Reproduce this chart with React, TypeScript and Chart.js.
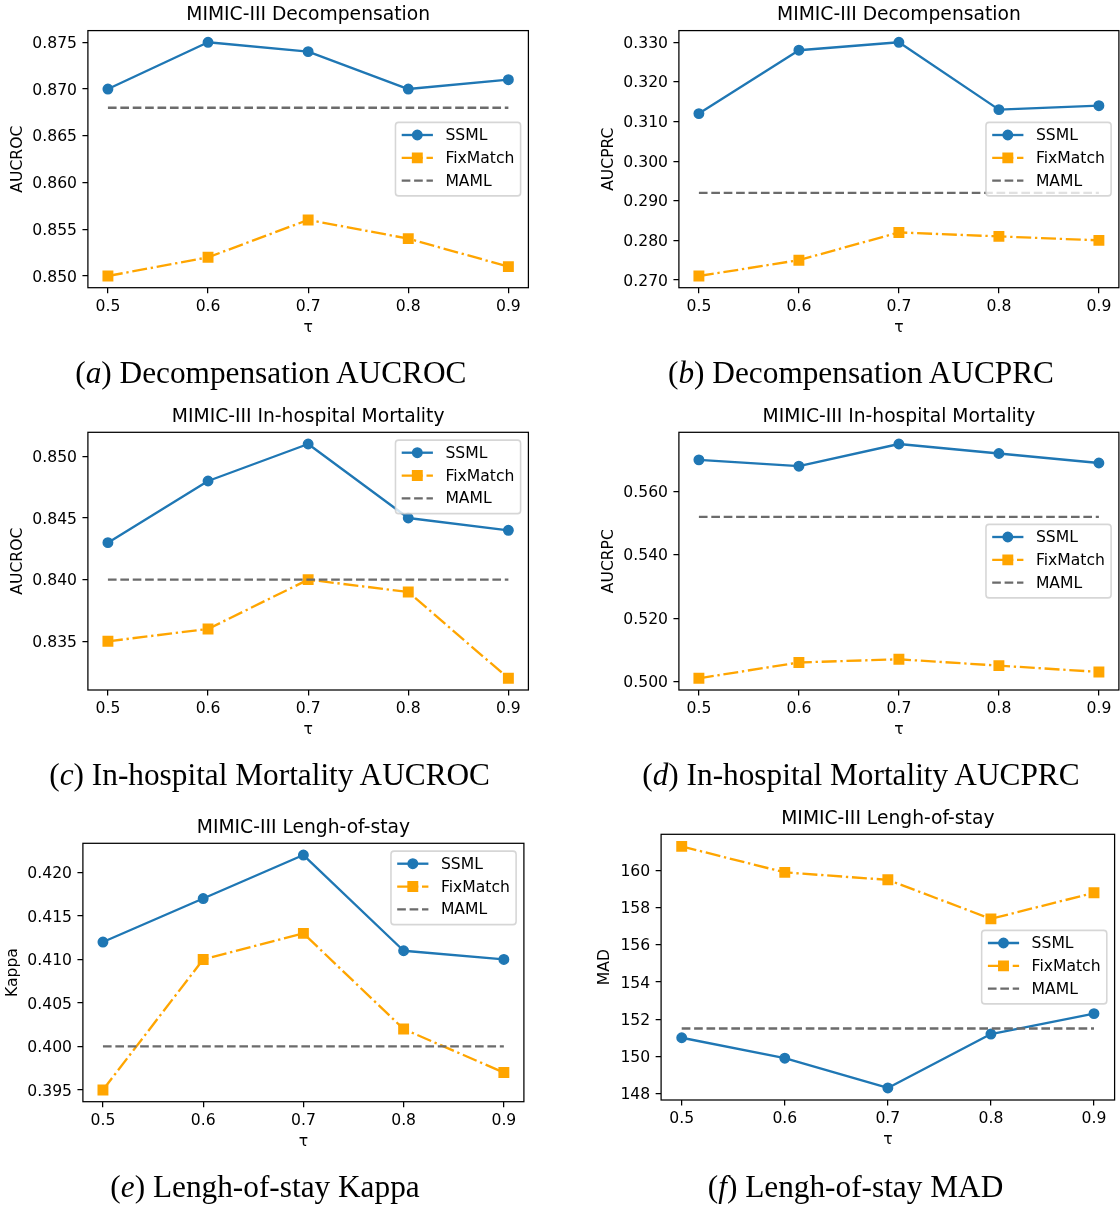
import React, { useEffect, useRef } from 'react';
import { Chart, registerables } from 'chart.js';

Chart.register(...registerables);
Chart.defaults.font.family = '"DejaVu Sans", sans-serif';
Chart.defaults.color = '#000';

// ---------------- data ----------------
const tau = [0.5, 0.6, 0.7, 0.8, 0.9];
const tauTicks = [0.5, 0.6, 0.7, 0.8, 0.9];
const seriesNames = ['SSML', 'FixMatch', 'MAML'];

// (a) Decompensation AUCROC
const decompRocSSML = [0.870, 0.875, 0.874, 0.870, 0.871];
const decompRocFixMatch = [0.850, 0.852, 0.856, 0.854, 0.851];
const decompRocMAML = 0.868;
const decompRocTicks = [0.850, 0.855, 0.860, 0.865, 0.870, 0.875];

// (b) Decompensation AUCPRC
const decompPrcSSML = [0.312, 0.328, 0.330, 0.313, 0.314];
const decompPrcFixMatch = [0.271, 0.275, 0.282, 0.281, 0.280];
const decompPrcMAML = 0.292;
const decompPrcTicks = [0.270, 0.280, 0.290, 0.300, 0.310, 0.320, 0.330];

// (c) In-hospital Mortality AUCROC
const mortRocSSML = [0.843, 0.848, 0.851, 0.845, 0.844];
const mortRocFixMatch = [0.835, 0.836, 0.840, 0.839, 0.832];
const mortRocMAML = 0.840;
const mortRocTicks = [0.835, 0.840, 0.845, 0.850];

// (d) In-hospital Mortality AUCPRC
const mortPrcSSML = [0.570, 0.568, 0.575, 0.572, 0.569];
const mortPrcFixMatch = [0.501, 0.506, 0.507, 0.505, 0.503];
const mortPrcMAML = 0.552;
const mortPrcTicks = [0.500, 0.520, 0.540, 0.560];

// (e) Length-of-stay Kappa
const losKappaSSML = [0.412, 0.417, 0.422, 0.411, 0.410];
const losKappaFixMatch = [0.395, 0.410, 0.413, 0.402, 0.397];
const losKappaMAML = 0.400;
const losKappaTicks = [0.395, 0.400, 0.405, 0.410, 0.415, 0.420];

// (f) Length-of-stay MAD
const losMadSSML = [151.0, 149.9, 148.3, 151.2, 152.3];
const losMadFixMatch = [161.3, 159.9, 159.5, 157.4, 158.8];
const losMadMAML = 151.5;
const losMadTicks = [148, 150, 152, 154, 156, 158, 160];

// ---------------- styles ----------------
const PT = 1.56; // px per point
const BLUE = '#1f77b4';
const ORANGE = '#ffa500';
const GRAY = '#6b6b6b';
const LW = 1.5 * PT;
const TICK_FONT = 10 * PT;
const TITLE_FONT = 12 * PT;
const DASH = [3.7 * LW, 1.6 * LW];
const DASHDOT = [6.4 * LW, 1.6 * LW, 1 * LW, 1.6 * LW];
const MARKER = 6 * PT;

type PanelCfg = {
  title: string;
  yLabel: string;
  ssml: number[];
  fix: number[];
  maml: number;
  yTicks: number[];
  decimals: number;
  letter: string;
  caption: string;
  canvas: { left: number; top: number; width: number; height: number };
  plot: { L: number; R: number; T: number; B: number };
  yTitleOffset: number;
  legendLoc: 'center right' | 'upper right';
  captionX: number;
  captionBase: number;
};

const panels: PanelCfg[] = [
  {
    title: 'MIMIC-III Decompensation', yLabel: 'AUCROC',
    ssml: decompRocSSML, fix: decompRocFixMatch, maml: decompRocMAML, yTicks: decompRocTicks, decimals: 3,
    letter: 'a', caption: 'Decompensation AUCROC',
    canvas: { left: 0, top: 0, width: 560, height: 400 },
    plot: { L: 87.9, R: 528.4, T: 30.6, B: 287.7 }, yTitleOffset: 70.9, legendLoc: 'center right',
    captionX: 270.8, captionBase: 383.5,
  },
  {
    title: 'MIMIC-III Decompensation', yLabel: 'AUCPRC',
    ssml: decompPrcSSML, fix: decompPrcFixMatch, maml: decompPrcMAML, yTicks: decompPrcTicks, decimals: 3,
    letter: 'b', caption: 'Decompensation AUCPRC',
    canvas: { left: 560, top: 0, width: 620, height: 400 },
    plot: { L: 678.9, R: 1118.9, T: 30.6, B: 287.7 }, yTitleOffset: 70.9, legendLoc: 'center right',
    captionX: 861, captionBase: 383.5,
  },
  {
    title: 'MIMIC-III In-hospital Mortality', yLabel: 'AUCROC',
    ssml: mortRocSSML, fix: mortRocFixMatch, maml: mortRocMAML, yTicks: mortRocTicks, decimals: 3,
    letter: 'c', caption: 'In-hospital Mortality AUCROC',
    canvas: { left: 0, top: 400, width: 560, height: 400 },
    plot: { L: 87.9, R: 528.4, T: 432.3, B: 690 }, yTitleOffset: 70.9, legendLoc: 'upper right',
    captionX: 269.6, captionBase: 785.5,
  },
  {
    title: 'MIMIC-III In-hospital Mortality', yLabel: 'AUCRPC',
    ssml: mortPrcSSML, fix: mortPrcFixMatch, maml: mortPrcMAML, yTicks: mortPrcTicks, decimals: 3,
    letter: 'd', caption: 'In-hospital Mortality AUCPRC',
    canvas: { left: 560, top: 400, width: 620, height: 400 },
    plot: { L: 678.9, R: 1118.9, T: 432.3, B: 690 }, yTitleOffset: 70.9, legendLoc: 'center right',
    captionX: 860.9, captionBase: 785.5,
  },
  {
    title: 'MIMIC-III Lengh-of-stay', yLabel: 'Kappa',
    ssml: losKappaSSML, fix: losKappaFixMatch, maml: losKappaMAML, yTicks: losKappaTicks, decimals: 3,
    letter: 'e', caption: 'Lengh-of-stay Kappa',
    canvas: { left: 0, top: 800, width: 560, height: 411 },
    plot: { L: 82.9, R: 523.9, T: 843.3, B: 1101.7 }, yTitleOffset: 70.9, legendLoc: 'upper right',
    captionX: 265, captionBase: 1197.5,
  },
  {
    title: 'MIMIC-III Lengh-of-stay', yLabel: 'MAD',
    ssml: losMadSSML, fix: losMadFixMatch, maml: losMadMAML, yTicks: losMadTicks, decimals: 0,
    letter: 'f', caption: 'Lengh-of-stay MAD',
    canvas: { left: 560, top: 800, width: 620, height: 411 },
    plot: { L: 661.1, R: 1114.6, T: 834.3, B: 1100 }, yTitleOffset: 57, legendLoc: 'center right',
    captionX: 855.5, captionBase: 1197.5,
  },
];

// ---------------- plugins ----------------
const framePlugin = {
  id: 'mplFrame',
  afterDatasetsDraw(chart: any) {
    const { ctx, chartArea } = chart;
    ctx.save();
    ctx.strokeStyle = '#000';
    ctx.lineWidth = 0.8 * PT;
    ctx.strokeRect(chartArea.left, chartArea.top, chartArea.right - chartArea.left, chartArea.bottom - chartArea.top);
    ctx.restore();
  },
};

function drawMarker(ctx: CanvasRenderingContext2D, kind: string, x: number, y: number, color: string) {
  ctx.save();
  ctx.setLineDash([]);
  ctx.fillStyle = color;
  ctx.strokeStyle = color;
  ctx.lineWidth = PT;
  ctx.beginPath();
  if (kind === 'circle') {
    ctx.arc(x, y, MARKER / 2, 0, Math.PI * 2);
  } else if (kind === 'rect') {
    ctx.rect(x - MARKER / 2, y - MARKER / 2, MARKER, MARKER);
  }
  ctx.fill();
  ctx.stroke();
  ctx.restore();
}

const legendPlugin = {
  id: 'mplLegend',
  afterDraw(chart: any, _args: any, opts: any) {
    const { ctx, chartArea } = chart;
    const items = chart.data.datasets.map((d: any) => ({
      label: d.label,
      color: d.borderColor,
      dash: d.borderDash || [],
      marker: d.pointRadius > 0 ? d.pointStyle : null,
    }));
    const fs = TICK_FONT;
    ctx.save();
    ctx.font = `${fs}px "DejaVu Sans"`;
    const textW = Math.max(...items.map((it: any) => ctx.measureText(it.label).width));
    const pad = 0.4 * fs;
    const handleLen = 2 * fs;
    const handlePad = 0.8 * fs;
    const rowStep = 22.85;
    const w = pad * 2 + handleLen + handlePad + textW;
    const h = 73.5;
    const right = chartArea.right - 0.5 * fs;
    const left = right - w;
    const top = opts.loc === 'upper right'
      ? chartArea.top + 0.5 * fs
      : (chartArea.top + chartArea.bottom) / 2 - h / 2;
    // frame
    const r = 0.2 * fs;
    ctx.beginPath();
    ctx.moveTo(left + r, top);
    ctx.lineTo(left + w - r, top);
    ctx.arcTo(left + w, top, left + w, top + r, r);
    ctx.lineTo(left + w, top + h - r);
    ctx.arcTo(left + w, top + h, left + w - r, top + h, r);
    ctx.lineTo(left + r, top + h);
    ctx.arcTo(left, top + h, left, top + h - r, r);
    ctx.lineTo(left, top + r);
    ctx.arcTo(left, top, left + r, top, r);
    ctx.closePath();
    ctx.fillStyle = 'rgba(255,255,255,0.8)';
    ctx.fill();
    ctx.strokeStyle = 'rgba(204,204,204,0.8)';
    ctx.lineWidth = PT;
    ctx.stroke();
    // entries
    items.forEach((it: any, i: number) => {
      const y = top + 12.6 + i * rowStep;
      const x0 = left + pad;
      ctx.save();
      ctx.strokeStyle = it.color;
      ctx.lineWidth = LW;
      ctx.lineCap = 'butt';
      ctx.setLineDash(it.dash);
      ctx.beginPath();
      ctx.moveTo(x0, y);
      ctx.lineTo(x0 + handleLen, y);
      ctx.stroke();
      ctx.restore();
      if (it.marker) drawMarker(ctx, it.marker, x0 + handleLen / 2, y, it.color);
      ctx.fillStyle = '#000';
      ctx.textAlign = 'left';
      ctx.textBaseline = 'middle';
      ctx.fillText(it.label, x0 + handleLen + handlePad, y + 1);
    });
    ctx.restore();
  },
};

// ---------------- components ----------------
function Panel({ p }: { p: PanelCfg }) {
  const ref = useRef<HTMLCanvasElement>(null);
  useEffect(() => {
    const canvas = ref.current;
    if (!canvas) return;
    const all = [...p.ssml, ...p.fix, p.maml];
    const lo = Math.min(...all);
    const hi = Math.max(...all);
    const ym = (hi - lo) * 0.05;
    const xlo = Math.min(...tau);
    const xhi = Math.max(...tau);
    const xm = (xhi - xlo) * 0.05;
    const W = p.yTitleOffset + 8.31;
    const H = 49.7;
    const titleBox = TITLE_FONT * 1.2 + 4;
    const gridCfg = {
      display: true,
      drawOnChartArea: false,
      drawTicks: true,
      tickLength: 3.5 * PT,
      tickWidth: 0.8 * PT,
      tickColor: '#000',
      color: '#000',
      lineWidth: 0.8 * PT,
    };
    const chart = new Chart(canvas, {
      type: 'line',
      data: {
        datasets: [
          {
            label: seriesNames[0],
            data: tau.map((t, i) => ({ x: t, y: p.ssml[i] })),
            borderColor: BLUE,
            backgroundColor: BLUE,
            borderWidth: LW,
            borderJoinStyle: 'round',
            pointStyle: 'circle',
            pointRadius: MARKER / 2,
            pointHoverRadius: MARKER / 2,
            pointBorderWidth: PT,
            pointBackgroundColor: BLUE,
            pointBorderColor: BLUE,
            tension: 0,
            order: 2,
          },
          {
            label: seriesNames[1],
            data: tau.map((t, i) => ({ x: t, y: p.fix[i] })),
            borderColor: ORANGE,
            backgroundColor: ORANGE,
            borderWidth: LW,
            borderDash: DASHDOT,
            borderJoinStyle: 'round',
            pointStyle: 'rect',
            pointRadius: MARKER / Math.SQRT2,
            pointHoverRadius: MARKER / Math.SQRT2,
            pointBorderWidth: PT,
            pointBackgroundColor: ORANGE,
            pointBorderColor: ORANGE,
            tension: 0,
            order: 1,
          },
          {
            label: seriesNames[2],
            data: tau.map((t) => ({ x: t, y: p.maml })),
            borderColor: GRAY,
            backgroundColor: GRAY,
            borderWidth: LW,
            borderDash: DASH,
            pointRadius: 0,
            pointHoverRadius: 0,
            tension: 0,
            order: 0,
          },
        ],
      } as any,
      options: {
        responsive: false,
        maintainAspectRatio: false,
        animation: false,
        events: [],
        layout: {
          padding: {
            left: p.plot.L - p.canvas.left - W,
            right: p.canvas.left + p.canvas.width - p.plot.R,
            top: p.plot.T - p.canvas.top - titleBox,
            bottom: p.canvas.top + p.canvas.height - p.plot.B - H,
          },
        },
        plugins: {
          legend: { display: false },
          tooltip: { enabled: false },
          title: {
            display: true,
            text: p.title,
            fullSize: false,
            color: '#000',
            font: { size: TITLE_FONT, weight: 'normal', lineHeight: 1.2 },
            padding: { top: 0, bottom: 4 },
          },
          mplLegend: { loc: p.legendLoc },
        } as any,
        scales: {
          x: {
            type: 'linear',
            position: 'bottom',
            min: xlo - xm,
            max: xhi + xm,
            afterBuildTicks: (s: any) => {
              s.ticks = tauTicks.map((v) => ({ value: v }));
            },
            afterFit: (s: any) => {
              s.height = H;
            },
            ticks: {
              autoSkip: false,
              maxRotation: 0,
              padding: 4.5,
              color: '#000',
              font: { size: TICK_FONT, lineHeight: 1.2 },
              callback: (v: any) => Number(v).toFixed(1),
            },
            grid: gridCfg,
            border: { display: false },
            title: {
              display: true,
              text: 'τ',
              color: '#000',
              font: { size: TICK_FONT, lineHeight: 1.2 },
              padding: 0,
            },
          },
          y: {
            type: 'linear',
            position: 'left',
            min: lo - ym,
            max: hi + ym,
            afterBuildTicks: (s: any) => {
              s.ticks = p.yTicks.map((v) => ({ value: v }));
            },
            afterFit: (s: any) => {
              s.width = W;
            },
            ticks: {
              autoSkip: false,
              padding: 3.5 * PT,
              labelOffset: 1.5,
              color: '#000',
              font: { size: TICK_FONT, lineHeight: 1.2 },
              callback: (v: any) => Number(v).toFixed(p.decimals),
            },
            grid: gridCfg,
            border: { display: false },
            title: {
              display: true,
              text: p.yLabel,
              color: '#000',
              font: { size: TICK_FONT, lineHeight: 1.2 },
              padding: 0,
            },
          },
        } as any,
      },
      plugins: [framePlugin, legendPlugin],
    });
    return () => chart.destroy();
  }, [p]);
  return (
    <canvas
      ref={ref}
      width={p.canvas.width}
      height={p.canvas.height}
      style={{
        position: 'absolute',
        left: p.canvas.left,
        top: p.canvas.top,
        width: p.canvas.width,
        height: p.canvas.height,
      }}
    />
  );
}

function Caption({ p }: { p: PanelCfg }) {
  return (
    <div
      style={{
        position: 'absolute',
        left: p.captionX - 300,
        width: 600,
        top: p.captionBase - 26.2,
        textAlign: 'center',
        fontFamily: '"Liberation Serif", serif',
        fontSize: 31.3,
        lineHeight: '31.3px',
        whiteSpace: 'nowrap',
        color: '#000',
      }}
    >
      (<i>{p.letter}</i>) {p.caption}
    </div>
  );
}

export default function App() {
  return (
    <div
      style={{
        position: 'absolute',
        left: 0,
        top: 0,
        width: 1120,
        height: 1211,
        background: '#fff',
        overflow: 'hidden',
      }}
    >
      {panels.map((p, i) => (
        <Panel key={'p' + i} p={p} />
      ))}
      {panels.map((p, i) => (
        <Caption key={'c' + i} p={p} />
      ))}
    </div>
  );
}
